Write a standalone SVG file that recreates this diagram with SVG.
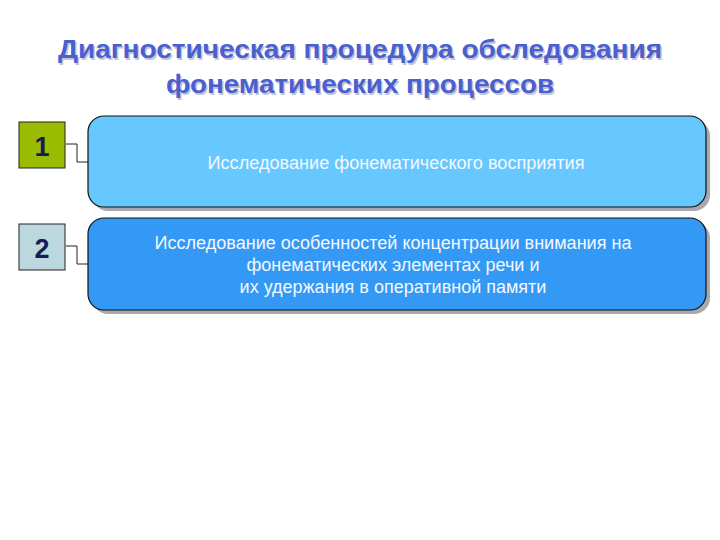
<svg xmlns="http://www.w3.org/2000/svg" width="720" height="540" viewBox="0 0 720 540">
<style>
.title{font-family:"Liberation Sans",Arial,sans-serif;font-weight:bold;font-size:25px;fill:#4a5fd0;text-anchor:middle}
.tshadow{font-family:"Liberation Sans",Arial,sans-serif;font-weight:bold;font-size:25px;fill:#c4c4d4;text-anchor:middle}
.num{font-family:"Liberation Sans",Arial,sans-serif;font-weight:bold;font-size:27px;fill:#1a1a55;text-anchor:middle}
.label{font-family:"Liberation Sans",Arial,sans-serif;font-size:18px;fill:#f4f8ff;text-anchor:middle}
.sq{stroke:#222;stroke-width:1}
.box{stroke:#111;stroke-width:1.2}
.shadow{fill:#a8a8b0}
.conn{fill:none;stroke:#222;stroke-width:1}
</style>
<rect width="720" height="540" fill="#ffffff"/>
<g id="title">
<text class="tshadow" x="361.5" y="59.5" textLength="604" lengthAdjust="spacingAndGlyphs">Диагностическая процедура обследования</text>
<text class="tshadow" x="361.5" y="94.5" textLength="388" lengthAdjust="spacingAndGlyphs">фонематических процессов</text>
<text class="title" x="360" y="58" textLength="604" lengthAdjust="spacingAndGlyphs">Диагностическая процедура обследования</text>
<text class="title" x="360" y="93" textLength="388" lengthAdjust="spacingAndGlyphs">фонематических процессов</text>
</g>
<g id="connectors">
<path class="conn" d="M66,144 H77 V162 H88"/>
<path class="conn" d="M66,246 H77 V264 H88"/>
</g>
<g id="num1">
<rect class="sq" x="19" y="122" width="46" height="46" fill="#99bb00"/>
<text class="num" x="42" y="156">1</text>
</g>
<g id="num2">
<rect class="sq" x="19" y="224" width="46" height="46" fill="#bcd8df"/>
<text class="num" x="42" y="258">2</text>
</g>
<g id="box1">
<rect class="shadow" x="92" y="120" width="618" height="91" rx="16"/>
<rect class="box" x="88" y="116" width="618" height="91" rx="16" fill="#66c8ff"/>
<text class="label" x="396" y="169" textLength="377" lengthAdjust="spacingAndGlyphs">Исследование фонематического восприятия</text>
</g>
<g id="box2">
<rect class="shadow" x="92" y="222" width="618" height="92" rx="16"/>
<rect class="box" x="88" y="218" width="618" height="92" rx="16" fill="#3399f5"/>
<text class="label" x="393" y="249" textLength="477" lengthAdjust="spacingAndGlyphs">Исследование особенностей концентрации внимания на</text>
<text class="label" x="393" y="271">фонематических элементах речи и</text>
<text class="label" x="393" y="293">их удержания в оперативной памяти</text>
</g>
</svg>
